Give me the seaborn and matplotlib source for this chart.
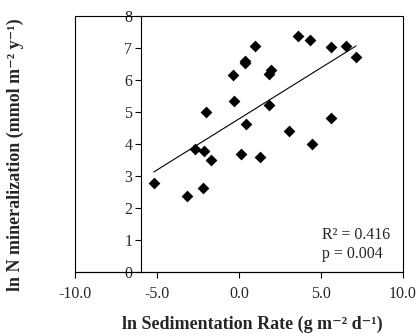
import numpy as np
import pandas as pd
import seaborn as sns
import matplotlib.pyplot as plt
from matplotlib.patches import Rectangle

# values
sed_rate = [-5.20, -3.18, -2.71, -2.17, -2.15, -2.04, -1.68, -0.38, -0.32, 0.12,
            0.36, 0.36, 0.43, 0.95, 1.30, 1.80, 1.80, 1.94, 3.06, 3.62,
            4.31, 4.47, 5.59, 5.63, 6.50, 7.13]
n_min = [2.79, 2.38, 3.84, 2.61, 3.77, 4.99, 3.49, 6.17, 5.36, 3.69,
         6.61, 6.52, 4.64, 7.06, 3.58, 5.21, 6.18, 6.33, 4.40, 7.38,
         7.24, 3.99, 7.04, 4.80, 7.08, 6.73]
x_ticks = [-10, -5, 0, 5, 10]
y_ticks = [0, 1, 2, 3, 4, 5, 6, 7, 8]

df = pd.DataFrame({'sed': sed_rate, 'nmin': n_min})

sns.set_style('white')
plt.rcParams['font.family'] = ['Liberation Serif', 'DejaVu Serif']

fig = plt.figure(figsize=(4.19, 3.36), dpi=100)
ax = fig.add_axes([0.179, 0.191, 0.783, 0.761])

sns.scatterplot(data=df, x='sed', y='nmin', marker='D', color='black',
                s=36, edgecolor='black', linewidth=0, ax=ax, zorder=3)
sns.regplot(data=df, x='sed', y='nmin', scatter=False, ci=None, truncate=True,
            line_kws={'color': 'black', 'lw': 0.8}, ax=ax)

ax.set_xlim(-10, 10)
ax.set_ylim(0, 8)
ax.set_xticks(x_ticks)
ax.set_xticklabels([f'{v:.1f}' for v in x_ticks])
ax.set_yticks(y_ticks)

# y axis crosses at x = -6, with a plain box round the plot
for s in ['top', 'right']:
    ax.spines[s].set_visible(False)
ax.spines['left'].set_position(('data', -6))
for s in ['left', 'bottom']:
    ax.spines[s].set_linewidth(0.8)
    ax.spines[s].set_color('black')
ax.add_patch(Rectangle((0, 0), 1, 1, transform=ax.transAxes, fill=False,
                       edgecolor='black', lw=0.8, clip_on=False))

ax.tick_params(axis='both', direction='out', length=4, width=0.8,
               color='black', labelsize=11.5, pad=2, left=True, bottom=True)
ax.tick_params(axis='x', pad=6)

ax.set_xlabel('')
ax.set_ylabel('')
fig.text(252 / 419, 1 - 324 / 336, 'ln Sedimentation Rate (g m\u207b\u00b2 d\u207b\u00b9)',
         ha='center', va='center', fontsize=13, fontweight='bold')
fig.text(15 / 419, 1 - 155 / 336, 'ln N mineralization (mmol m\u207b\u00b2 y\u207b\u00b9)',
         rotation=90, ha='center', va='center', fontsize=13, fontweight='bold')

ax.text(0.753, 0.13, 'R\u00b2 = 0.416', transform=ax.transAxes, fontsize=11.5)
ax.text(0.753, 0.055, 'p = 0.004', transform=ax.transAxes, fontsize=11.5)

fig.savefig('out.png', dpi=100)
